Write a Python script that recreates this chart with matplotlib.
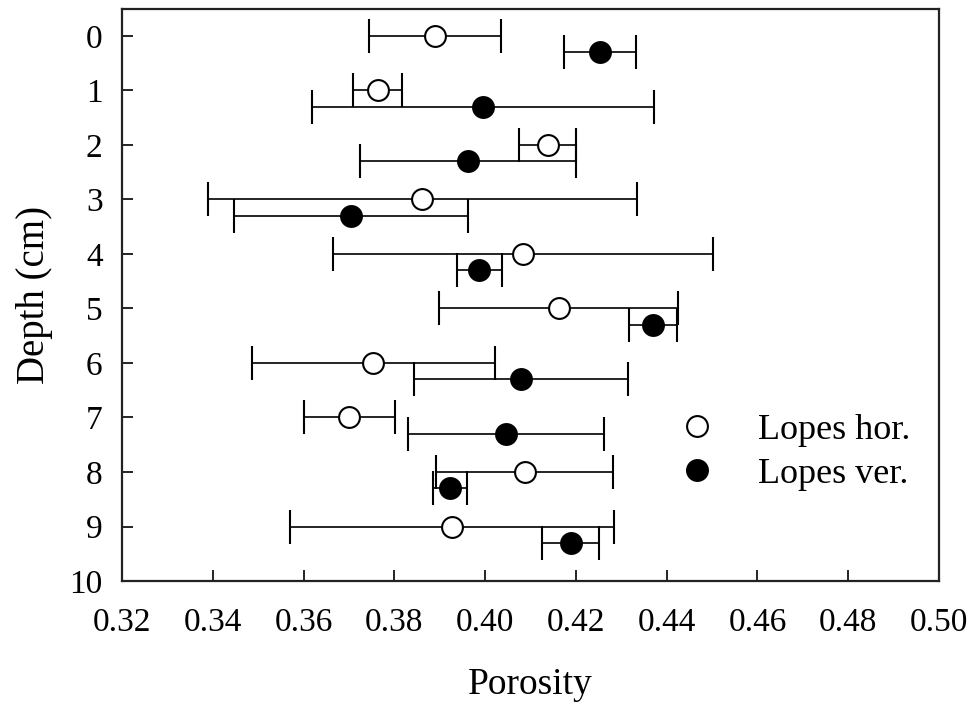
import numpy as np
import matplotlib
matplotlib.use('Agg')
import matplotlib.pyplot as plt

plt.rcParams['font.family'] = ['Liberation Serif', 'DejaVu Serif']

depth = np.arange(10)

# Lopes horizontal samples
hor_mean = [0.3890, 0.3763, 0.4138, 0.3862, 0.4083, 0.4162, 0.3754, 0.3701, 0.4087, 0.3927]
hor_err = [0.0145, 0.0053, 0.0063, 0.0473, 0.0418, 0.0263, 0.0268, 0.0101, 0.0195, 0.0356]

# Lopes vertical samples
ver_mean = [0.4253, 0.3995, 0.3963, 0.3704, 0.3987, 0.4370, 0.4079, 0.4046, 0.3923, 0.4189]
ver_err = [0.0080, 0.0377, 0.0238, 0.0258, 0.0050, 0.0053, 0.0235, 0.0215, 0.0038, 0.0063]

fig = plt.figure(figsize=(9.75, 7.07), dpi=100)
ax = fig.add_axes([0.1251, 0.1782, 0.8380, 0.8095])

ax.errorbar(hor_mean, depth, xerr=hor_err, fmt='o', color='black',
            mfc='white', mec='black', ms=15, mew=1.5, elinewidth=1.2,
            capsize=12, capthick=1.2, label='Lopes hor.', zorder=3)
ax.errorbar(ver_mean, depth + 0.3, xerr=ver_err, fmt='o', color='black',
            mfc='black', mec='black', ms=15, mew=1.5, elinewidth=1.2,
            capsize=12, capthick=1.2, label='Lopes ver.', zorder=3)

ax.set_xlim(0.32, 0.50)
ax.set_ylim(10, -0.5)
ax.set_xticks(np.arange(0.32, 0.501, 0.02))
ax.set_xticklabels(['%.2f' % v for v in np.arange(0.32, 0.501, 0.02)])
ax.set_yticks(range(11))

ax.tick_params(direction='in', length=8, width=1.2, labelsize=24,
               top=False, right=False)
ax.tick_params(axis='x', pad=19)
ax.tick_params(axis='y', pad=14)
for s in ax.spines.values():
    s.set_linewidth(1.6)
    s.set_color('#222222')

ax.set_xlabel('Porosity', fontsize=27, labelpad=21)
ax.set_ylabel('Depth (cm)', fontsize=28, labelpad=12)

handles, labels = ax.get_legend_handles_labels()
handles = [h[0] for h in handles]
ax.legend(handles, labels, loc='center left', bbox_to_anchor=(0.642, 0.225),
          frameon=False, fontsize=26, handletextpad=1.2, labelspacing=0.31,
          handlelength=1.0)

plt.savefig('out.png', dpi=100)
